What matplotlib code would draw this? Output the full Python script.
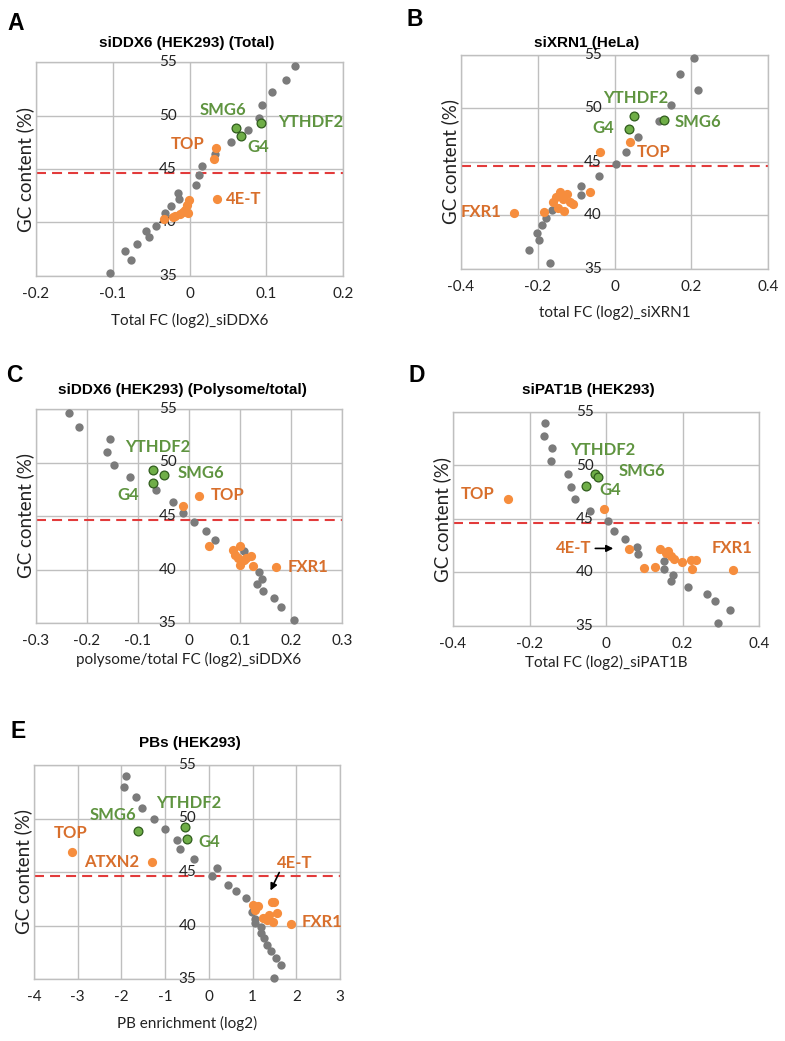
import matplotlib
matplotlib.use("Agg")
import matplotlib.pyplot as plt

# ---- data ----
# A: siDDX6 (HEK293) (Total)
a_gray_x = [0.138, 0.126, 0.107, 0.094, 0.090, 0.076, 0.054, 0.033, 0.016, 0.013, 0.009,
            -0.015, -0.014, -0.024, -0.032, -0.044, -0.057, -0.053, -0.069, -0.084, -0.076, -0.104]
a_gray_y = [54.6, 53.3, 52.2, 51.0, 49.8, 48.6, 47.5, 46.4, 45.3, 44.4, 43.55,
            42.8, 42.15, 41.5, 40.9, 39.7, 39.2, 38.6, 37.95, 37.3, 36.5, 35.25]
a_orange_x = [0.035, 0.032, 0.036, -0.001, -0.003, -0.006, -0.002, -0.009, -0.012, -0.019, -0.022, -0.033]
a_orange_y = [46.95, 45.9, 42.2, 42.1, 41.6, 41.2, 40.9, 41.0, 40.8, 40.6, 40.5, 40.3]
a_green_x = [0.060, 0.067, 0.093]
a_green_y = [48.87, 48.1, 49.3]

# B: siXRN1 (HeLa)
b_gray_x = [0.208, 0.170, 0.217, 0.147, 0.117, 0.060, 0.030, 0.003, -0.040, -0.088, -0.088,
            -0.163, -0.178, -0.190, -0.203, -0.196, -0.223, -0.167]
b_gray_y = [54.75, 53.2, 51.73, 50.3, 48.8, 47.3, 45.9, 44.77, 43.7, 42.8, 41.96,
            40.5, 39.8, 39.1, 38.4, 37.7, 36.74, 35.56]
b_orange_x = [0.041, -0.038, -0.063, -0.263, -0.185, -0.143, -0.124, -0.153, -0.159, -0.135,
              -0.109, -0.131, -0.146, -0.116]
b_orange_y = [46.9, 45.9, 42.15, 40.2, 40.35, 42.15, 42.0, 41.7, 41.3, 41.5,
              41.1, 40.45, 40.7, 41.3]
b_green_x = [0.050, 0.037, 0.128]
b_green_y = [49.3, 48.1, 48.9]

# C: siDDX6 (HEK293) (Polysome/total)
c_gray_x = [-0.235, -0.215, -0.155, -0.161, -0.148, -0.116, -0.064, -0.032, -0.011, 0.009, 0.033,
            0.051, 0.107, 0.138, 0.143, 0.133, 0.146, 0.167, 0.181, 0.205]
c_gray_y = [54.6, 53.3, 52.2, 51.0, 49.8, 48.6, 47.45, 46.35, 45.3, 44.4, 43.6,
            42.8, 41.7, 39.75, 39.1, 38.6, 37.95, 37.3, 36.45, 35.25]
c_orange_x = [0.020, -0.011, 0.039, 0.171, 0.100, 0.087, 0.097, 0.112, 0.121, 0.100, 0.126, 0.091, 0.107]
c_orange_y = [46.9, 45.9, 42.15, 40.2, 42.15, 41.85, 41.1, 41.1, 41.3, 40.45, 40.35, 41.4, 40.85]
c_green_x = [-0.070, -0.050, -0.071]
c_green_y = [49.3, 48.8, 48.1]

# D: siPAT1B (HEK293)
d_gray_x = [-0.159, -0.161, -0.141, -0.143, -0.100, -0.092, -0.080, -0.043, 0.004, 0.022, 0.050,
            0.082, 0.084, 0.152, 0.152, 0.174, 0.170, 0.215, 0.265, 0.285, 0.324, 0.294]
d_gray_y = [53.97, 52.73, 51.6, 50.4, 49.2, 48.0, 46.85, 45.76, 44.8, 43.9, 43.15,
            42.4, 41.7, 41.1, 40.35, 39.8, 39.2, 38.65, 38.0, 37.3, 36.5, 35.3]
d_orange_x = [-0.257, -0.006, 0.059, 0.331, 0.100, 0.128, 0.140, 0.163, 0.157, 0.171, 0.178,
              0.198, 0.222, 0.234, 0.224]
d_orange_y = [46.9, 45.9, 42.15, 40.2, 40.4, 40.55, 42.15, 42.0, 41.8, 41.5, 41.3,
              41.0, 41.2, 41.2, 40.3]
d_green_x = [-0.029, -0.020, -0.052]
d_green_y = [49.25, 48.9, 48.1]

# E: PBs (HEK293)
e_gray_x = [-1.90, -1.95, -1.67, -1.52, -1.25, -1.00, -0.74, -0.65, -0.34, 0.19, 0.08, 0.44,
            0.62, 0.85, 0.99, 1.05, 1.05, 1.20, 1.20, 1.27, 1.32, 1.42, 1.53, 1.64, 1.49]
e_gray_y = [53.97, 52.95, 51.98, 51.0, 49.99, 49.03, 48.0, 47.13, 46.2, 45.33, 44.58, 43.83,
            43.18, 42.56, 41.3, 40.6, 40.2, 39.85, 39.3, 38.8, 38.2, 37.66, 37.0, 36.28, 35.05]
e_orange_x = [-3.12, -1.31, 1.88, 1.44, 1.49, 1.02, 1.13, 1.05, 1.55, 1.38, 1.24, 1.47, 1.32]
e_orange_y = [46.9, 45.95, 40.15, 42.15, 42.15, 41.9, 41.8, 41.45, 41.2, 40.97, 40.66, 40.35, 40.5]
e_green_x = [-1.62, -0.54, -0.49]
e_green_y = [48.84, 49.25, 48.07]

gc_threshold = 44.6
y_ticks = [35, 40, 45, 50, 55]

GRAY = "#7b7b7b"
ORANGE = "#f68d3d"
ORANGE_TXT = "#d86f2c"
GREEN = "#6fae47"
GREEN_EDGE = "#2f5c1c"
GREEN_TXT = "#5f9440"
GRID = "#bfbfbf"
BODY = ["Lato", "DejaVu Sans"]
HEAD = ["Liberation Sans", "DejaVu Sans"]

W, H = 785, 1041
fig = plt.figure(figsize=(W / 100, H / 100), dpi=100)


def panel(box, xlim, xticks, xticklabels, gray, orange, green, labels, arrows,
          title, title_xy, letter, letter_xy, xlabel, xlabel_y):
    l, t, r, b = box
    ax = fig.add_axes([l / W, 1 - b / H, (r - l) / W, (b - t) / H])
    ax.set_xlim(*xlim)
    ax.set_ylim(35, 55)
    ax.set_xticks(xticks)
    ax.set_xticklabels(xticklabels, family=BODY, fontsize=11, color="#222222")
    ax.set_yticks(y_ticks)
    ax.set_yticklabels([])
    ax.tick_params(length=0, pad=8)
    ax.grid(True, color=GRID, lw=1)
    ax.set_axisbelow(True)
    for s in ax.spines.values():
        s.set_color(GRID)
        s.set_linewidth(1)
    for v in y_ticks:
        ax.annotate(str(v), xy=(0, v), xytext=(-9, 0), textcoords="offset points",
                    ha="right", va="center", family=BODY, fontsize=11, color="#222222",
                    annotation_clip=False)
    ax.axhline(gc_threshold, color="#e23b3b", lw=1.5, ls=(0, (4.8, 2.9)), zorder=2)
    ax.scatter(gray[0], gray[1], s=36, color=GRAY, lw=0, zorder=3, clip_on=False)
    ax.scatter(orange[0], orange[1], s=44, color=ORANGE, lw=0, zorder=4, clip_on=False)
    ax.scatter(green[0], green[1], s=40, color=GREEN, edgecolors=GREEN_EDGE, lw=0.9,
               zorder=5, clip_on=False)
    for txt, x, y, ha, col in labels:
        ax.text(x, y, txt, ha=ha, va="center", color=col, family=BODY,
                fontsize=12, fontweight="bold", zorder=6)
    for tail, head in arrows:
        ax.annotate("", xy=head, xytext=tail,
                    arrowprops=dict(arrowstyle="-|>", color="black", lw=1.2,
                                    mutation_scale=10, shrinkA=0, shrinkB=0))
    ax.text(-11 / (r - l), 0.5, "GC content (%)", transform=ax.transAxes, rotation=90,
            ha="center", va="center", family=BODY, fontsize=13.5, color="#222222")
    fig.text((l + r) / 2 / W, 1 - xlabel_y / H, xlabel, ha="center", va="center",
             family=BODY, fontsize=11, color="#222222")
    fig.text(title_xy[0] / W, 1 - title_xy[1] / H, title, ha="center", va="center",
             family=HEAD, fontsize=11, fontweight="bold")
    fig.text(letter_xy[0] / W, 1 - letter_xy[1] / H, letter, ha="center", va="center",
             family=HEAD, fontsize=16.5, fontweight="bold")
    return ax


panel((36, 62, 343, 276), (-0.2, 0.2), [-0.2, -0.1, 0, 0.1, 0.2],
      ["-0.2", "-0.1", "0", "0.1", "0.2"],
      (a_gray_x, a_gray_y), (a_orange_x, a_orange_y), (a_green_x, a_green_y),
      [("SMG6", 0.013, 50.55, "left", GREEN_TXT), ("YTHDF2", 0.115, 49.4, "left", GREEN_TXT),
       ("G4", 0.075, 47.07, "left", GREEN_TXT), ("TOP", 0.019, 47.38, "right", ORANGE_TXT),
       ("4E-T", 0.048, 42.18, "left", ORANGE_TXT)],
      [], "siDDX6 (HEK293) (Total)", (187, 43), "A", (16, 23),
      "Total FC (log2)_siDDX6", 320)

panel((461, 55, 768, 269), (-0.4, 0.4), [-0.4, -0.2, 0, 0.2, 0.4],
      ["-0.4", "-0.2", "0", "0.2", "0.4"],
      (b_gray_x, b_gray_y), (b_orange_x, b_orange_y), (b_green_x, b_green_y),
      [("YTHDF2", -0.029, 50.96, "left", GREEN_TXT), ("G4", -0.001, 48.22, "right", GREEN_TXT),
       ("SMG6", 0.157, 48.78, "left", GREEN_TXT), ("TOP", 0.057, 45.92, "left", ORANGE_TXT),
       ("FXR1", -0.294, 40.29, "right", ORANGE_TXT)],
      [], "siXRN1 (HeLa)", (587, 43), "B", (415, 20),
      "total FC (log2)_siXRN1", 312)

panel((36, 409, 342, 623), (-0.3, 0.3), [-0.3, -0.2, -0.1, 0, 0.1, 0.2, 0.3],
      ["-0.3", "-0.2", "-0.1", "0", "0.1", "0.2", "0.3"],
      (c_gray_x, c_gray_y), (c_orange_x, c_orange_y), (c_green_x, c_green_y),
      [("YTHDF2", -0.125, 51.42, "left", GREEN_TXT), ("SMG6", -0.023, 49.0, "left", GREEN_TXT),
       ("G4", -0.141, 46.97, "left", GREEN_TXT), ("TOP", 0.042, 46.97, "left", ORANGE_TXT),
       ("FXR1", 0.193, 40.23, "left", ORANGE_TXT)],
      [], "siDDX6 (HEK293) (Polysome/total)", (182, 390), "C", (14, 375),
      "polysome/total FC (log2)_siDDX6", 659)

panel((453, 412, 759, 626), (-0.4, 0.4), [-0.4, -0.2, 0, 0.2, 0.4],
      ["-0.4", "-0.2", "0", "0.2", "0.4"],
      (d_gray_x, d_gray_y), (d_orange_x, d_orange_y), (d_green_x, d_green_y),
      [("YTHDF2", -0.094, 51.42, "left", GREEN_TXT), ("SMG6", 0.034, 49.46, "left", GREEN_TXT),
       ("G4", -0.018, 47.69, "left", GREEN_TXT), ("TOP", -0.292, 47.32, "right", ORANGE_TXT),
       ("4E-T", -0.037, 42.25, "right", ORANGE_TXT), ("FXR1", 0.276, 42.25, "left", ORANGE_TXT)],
      [((-0.028, 42.25), (0.019, 42.25))], "siPAT1B (HEK293)", (588, 390), "D", (417, 375),
      "Total FC (log2)_siPAT1B", 662)

panel((34, 765, 340, 979), (-4, 3), [-4, -3, -2, -1, 0, 1, 2, 3],
      ["-4", "-3", "-2", "-1", "0", "1", "2", "3"],
      (e_gray_x, e_gray_y), (e_orange_x, e_orange_y), (e_green_x, e_green_y),
      [("SMG6", -2.73, 50.33, "left", GREEN_TXT), ("YTHDF2", -1.20, 51.45, "left", GREEN_TXT),
       ("G4", -0.24, 47.78, "left", GREEN_TXT), ("TOP", -3.54, 48.69, "left", ORANGE_TXT),
       ("ATXN2", -1.60, 45.95, "right", ORANGE_TXT), ("4E-T", 1.565, 45.82, "left", ORANGE_TXT),
       ("FXR1", 2.12, 40.33, "left", ORANGE_TXT)],
      [((1.61, 44.95), (1.41, 43.27))], "PBs (HEK293)", (190, 743), "E", (18, 732),
      "PB enrichment (log2)", 1023)

fig.savefig("out.png", dpi=100)
